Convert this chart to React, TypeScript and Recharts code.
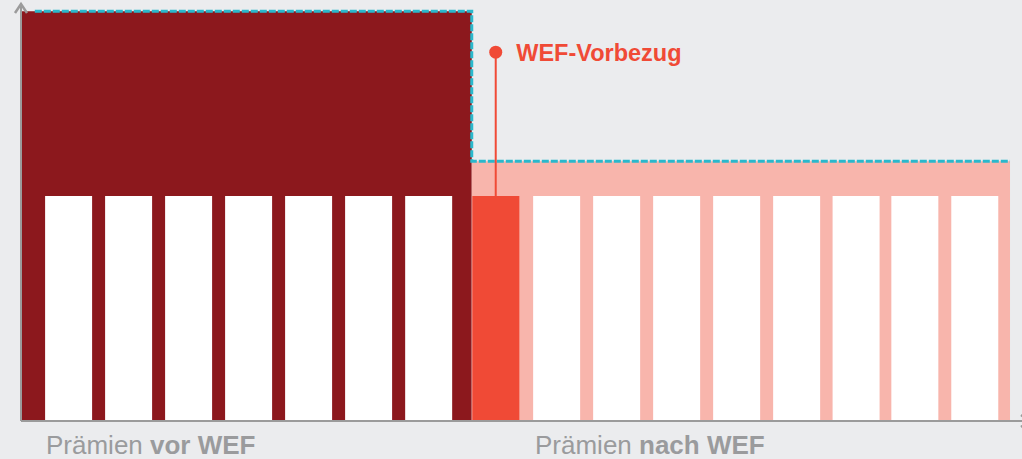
import React from 'react';
import {
  ComposedChart,
  Area,
  Bar,
  Line,
  Cell,
  XAxis,
  YAxis,
  ReferenceLine,
  ReferenceDot,
} from 'recharts';

// ---- data ----
// x positions are in "year slot" units along the time axis
const regionEdges = [0, 7.52, 16.5]; // start, WEF moment, end
const premiumBefore = 100; // premium level before WEF withdrawal
const premiumAfter = 63.4; // premium level after WEF withdrawal
const dashStart = 0.23;

const barsBeforeX = [0.792, 1.793, 2.794, 3.795, 4.796, 5.797, 6.799];
const wefBarX = 7.92;
const barsAfterX = [8.934, 9.935, 10.936, 11.937, 12.938, 13.93, 14.91, 15.91];
const barValue = 54.9; // saving part of each year's premium
const wefMarkerTop = 90;

const xLabelTicks = [0.417, 8.575];
const xLabelLead = ['Prämien ', 'Prämien '];
const xLabelBold = ['vor WEF', 'nach WEF'];
const wefLabel = 'WEF-Vorbezug';

const X_DOMAIN: [number, number] = [0, 16.7];

// ---- colours ----
const BG = '#ebecee';
const DARK = '#8c181d';
const PINK = '#f8b5ac';
const RED = '#f04a36';
const CYAN = '#2ab8cc';
const AXIS = '#9b9b9b';
const LABEL = '#9a9b9d';
const FONT = '"Liberation Sans", Arial, Helvetica, sans-serif';

type Row = {
  x?: number;
  bx?: number;
  before?: number;
  after?: number;
  dash?: number;
  bar?: number;
  kind?: 'white' | 'wef';
};

const rows: Row[] = [
  { x: regionEdges[0], before: premiumBefore },
  { x: regionEdges[1], before: premiumBefore },
  { x: regionEdges[1], after: premiumAfter },
  { x: regionEdges[2], after: premiumAfter },
  { x: dashStart, dash: premiumBefore },
  { x: regionEdges[1], dash: premiumBefore },
  { x: regionEdges[1], dash: premiumAfter },
  { x: regionEdges[2], dash: premiumAfter },
  ...barsBeforeX.map((bx) => ({ bx, bar: barValue, kind: 'white' as const })),
  { bx: wefBarX, bar: barValue, kind: 'wef' as const },
  ...barsAfterX.map((bx) => ({ bx, bar: barValue, kind: 'white' as const })),
];

const YArrow = (props: any) => {
  const vb = props.viewBox || {};
  const ax = vb.x + vb.width;
  const ay = vb.y;
  return (
    <polyline
      points={`${ax - 6},${ay + 10} ${ax},${ay + 1} ${ax + 6},${ay + 10}`}
      fill="none"
      stroke={AXIS}
      strokeWidth={2.5}
    />
  );
};

const XArrow = (props: any) => {
  const vb = props.viewBox || {};
  const ax = vb.x + vb.width;
  const ay = vb.y;
  return (
    <polyline
      points={`${ax - 1},${ay - 6} ${ax + 8},${ay} ${ax - 1},${ay + 6}`}
      fill="none"
      stroke={AXIS}
      strokeWidth={2.5}
    />
  );
};

const BottomTick = (props: any) => {
  const i = props.index ?? props.payload?.index ?? 0;
  return (
    <text
      x={props.x}
      y={props.y + 33}
      fill={LABEL}
      fontSize={26}
      fontFamily={FONT}
      textAnchor="start"
    >
      <tspan>{xLabelLead[i]}</tspan>
      <tspan fontWeight="bold">{xLabelBold[i]}</tspan>
    </text>
  );
};

export default function App() {
  return (
    <div
      style={{
        position: 'absolute',
        left: 0,
        top: 0,
        width: 1022,
        height: 459,
        background: BG,
        fontFamily: FONT,
      }}
    >
      <ComposedChart
        width={1022}
        height={459}
        data={rows}
        margin={{ top: 3, right: 0, bottom: 0, left: 0 }}
        style={{ fontFamily: FONT }}
      >
        <XAxis
          type="number"
          dataKey="x"
          domain={X_DOMAIN}
          ticks={xLabelTicks}
          interval={0}
          height={38}
          tickLine={false}
          tickSize={0}
          tickMargin={0}
          axisLine={{ stroke: AXIS, strokeWidth: 2 }}
          tick={<BottomTick />}
          label={XArrow}
        />
        <XAxis
          xAxisId="bars"
          type="number"
          dataKey="bx"
          domain={X_DOMAIN}
          hide
        />
        <YAxis
          type="number"
          domain={[0, 102]}
          width={21}
          tick={false}
          tickLine={false}
          axisLine={{ stroke: AXIS, strokeWidth: 2 }}
          label={YArrow}
        />
        <Area
          dataKey="before"
          type="linear"
          fill={DARK}
          fillOpacity={1}
          stroke="none"
          connectNulls
          dot={false}
          activeDot={false}
          isAnimationActive={false}
        />
        <Area
          dataKey="after"
          type="linear"
          fill={PINK}
          fillOpacity={1}
          stroke="none"
          connectNulls
          dot={false}
          activeDot={false}
          isAnimationActive={false}
        />
        <Bar xAxisId="bars" dataKey="bar" barSize={47} isAnimationActive={false}>
          {rows.map((r, i) => (
            <Cell key={i} fill={r.kind === 'wef' ? RED : '#ffffff'} />
          ))}
        </Bar>
        <Line
          dataKey="dash"
          type="linear"
          stroke={CYAN}
          strokeWidth={3}
          strokeDasharray="7 2"
          connectNulls
          dot={false}
          activeDot={false}
          isAnimationActive={false}
        />
        <ReferenceLine
          segment={[
            { x: wefBarX, y: barValue },
            { x: wefBarX, y: wefMarkerTop },
          ]}
          stroke={RED}
          strokeWidth={2}
        />
        <ReferenceDot
          x={wefBarX}
          y={wefMarkerTop}
          r={6.5}
          fill={RED}
          stroke="none"
          label={{
            value: wefLabel,
            position: 'right',
            offset: 14,
            fill: RED,
            fontSize: 23.5,
            fontWeight: 'bold',
            fontFamily: FONT,
          }}
        />
      </ComposedChart>
    </div>
  );
}
